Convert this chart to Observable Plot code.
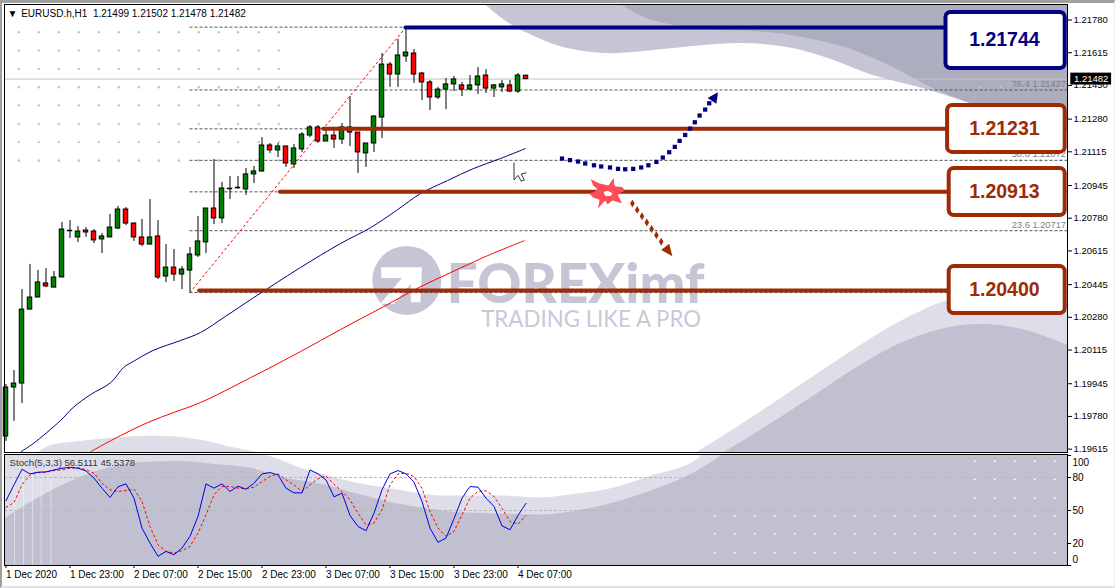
<!DOCTYPE html>
<html><head><meta charset="utf-8">
<style>
html,body{margin:0;padding:0;background:#fff;overflow:hidden}
#wrap{position:relative;width:1115px;height:588px}
#wrap svg{position:absolute;left:0;display:block}
#edge{position:absolute;left:0;top:0;width:1115px;height:588px;box-sizing:border-box;border-top:3px solid #a0a0a0;border-left:2px solid #a0a0a0;border-bottom:2px solid #e2e2e2;border-right:1px solid #ececec;pointer-events:none}
</style>
<script src="https://cdn.jsdelivr.net/npm/d3@7"></script>
<script src="https://cdn.jsdelivr.net/npm/@observablehq/plot@0.6"></script>
</head><body><div id="wrap"><div id="edge"></div></div>
<script>
// ---------- candles (one hourly bar per index, 1 Dec 15:00 .. 4 Dec 08:00)
const opens=[1.19679,1.19926,1.19946,1.20319,1.20380,1.20451,1.20430,1.20481,1.20718,1.20683,1.20718,1.20713,1.20673,1.20683,1.20728,1.20824,1.20753,1.20683,1.20647,1.20688,1.20486,1.20531,1.20496,1.20516,1.20592,1.20658,1.20829,1.20779,1.20930,1.20935,1.20925,1.21001,1.21016,1.21147,1.21122,1.21142,1.21051,1.21127,1.21197,1.21238,1.21167,1.21197,1.21177,1.21238,1.21212,1.21107,1.21157,1.21288,1.21555,1.21505,1.21596,1.21611,1.21510,1.21465,1.21389,1.21429,1.21455,1.21450,1.21429,1.21450,1.21500,1.21434,1.21440,1.21450,1.21419,1.21499];
const closes=[1.19926,1.19946,1.20319,1.20380,1.20456,1.20436,1.20481,1.20723,1.20718,1.20713,1.20708,1.20668,1.20688,1.20733,1.20824,1.20753,1.20683,1.20647,1.20683,1.20481,1.20531,1.20496,1.20521,1.20597,1.20663,1.20829,1.20779,1.20930,1.20930,1.20935,1.21001,1.21016,1.21147,1.21122,1.21142,1.21056,1.21132,1.21202,1.21238,1.21167,1.21197,1.21177,1.21238,1.21212,1.21112,1.21157,1.21293,1.21555,1.21505,1.21601,1.21616,1.21505,1.21465,1.21389,1.21429,1.21455,1.21480,1.21429,1.21450,1.21495,1.21434,1.21450,1.21455,1.21419,1.21500,1.21482];
const highs=[1.19941,1.20012,1.20420,1.20547,1.20516,1.20526,1.20511,1.20758,1.20768,1.20738,1.20733,1.20723,1.20703,1.20799,1.20839,1.20834,1.20758,1.20774,1.20874,1.20768,1.20647,1.20622,1.20536,1.20632,1.20789,1.20829,1.21076,1.20960,1.20990,1.20990,1.21031,1.21041,1.21187,1.21157,1.21157,1.21142,1.21152,1.21212,1.21248,1.21248,1.21228,1.21218,1.21258,1.21394,1.21212,1.21157,1.21298,1.21611,1.21566,1.21682,1.21742,1.21631,1.21515,1.21475,1.21440,1.21485,1.21495,1.21465,1.21500,1.21540,1.21530,1.21455,1.21475,1.21475,1.21510,1.21502];
const lows=[1.19654,1.19755,1.19845,1.20319,1.20380,1.20430,1.20430,1.20481,1.20678,1.20658,1.20683,1.20652,1.20602,1.20683,1.20723,1.20743,1.20663,1.20637,1.20647,1.20471,1.20456,1.20461,1.20420,1.20405,1.20582,1.20602,1.20748,1.20753,1.20874,1.20925,1.20895,1.20955,1.21011,1.21107,1.21086,1.21036,1.21031,1.21112,1.21187,1.21157,1.21167,1.21132,1.21152,1.21142,1.21006,1.21036,1.21112,1.21182,1.21440,1.21440,1.21566,1.21460,1.21374,1.21323,1.21379,1.21328,1.21419,1.21394,1.21424,1.21404,1.21409,1.21389,1.21414,1.21414,1.21409,1.21478];
// ---------- moving averages
const maBlueBar=[1.9,3.4,6.8,8.4,10.6,13.1,14.7,15.9,18.4,21.8,24.3,27.4,30.8,32.7,36.8,41.8,45.6,48.8,51.8,55.2,58.4,61.8,64.9];
const maBluePrice=[1.19603,1.19643,1.19759,1.19825,1.19891,1.19951,1.20027,1.20057,1.20113,1.20163,1.20203,1.20284,1.20375,1.20425,1.20531,1.20652,1.20733,1.20819,1.20904,1.20970,1.21030,1.21081,1.21131];
const maRedBar=[10.6,14.3,17.7,20.9,24.3,30.6,36.8,41.8,47.2,51.6,55.6,59.9,64.8];
const maRedPrice=[1.19603,1.19683,1.19749,1.19799,1.19850,1.19976,1.20107,1.20218,1.20334,1.20430,1.20506,1.20586,1.20667];
// ---------- stochastic
const stochK=[58.8,73.3,87.5,83.3,84.8,85.1,86.9,88.4,89.3,88.4,86,79.4,70.3,61.8,71.5,74.2,61.2,34,20.4,8.3,12.8,9.8,15.9,26.5,44.6,74.2,70.3,74.2,67.3,72.1,69.4,74.8,83.3,84.5,82.4,70.3,66,66,86.9,83.3,77.8,62.4,65.8,45.5,35.5,31.6,47.6,68.8,83.3,86.3,83.3,75.7,58.2,34,21,25,42.5,61.2,71.8,71.2,61.2,53.7,36.1,32.5,45.5,56.5111];
const stochD=[52.8,57.3,73.3,82.4,84.5,84.8,86.3,86.9,88.4,89,87.2,83.9,74.8,68.8,67.3,68.2,69.4,58.2,35.5,18.9,12.8,11.3,13.5,17.4,29.5,46.1,64.2,71.8,71.8,70.3,69.7,71.2,76.3,80.9,83.3,77.8,73.3,67.3,73.3,78.8,81.5,73.9,67.3,59.7,47.6,37,38.5,50.6,73.3,83.3,83.9,80.9,70.3,49.1,34,26.5,31,46.1,61.2,67.3,67.9,62.7,52.1,40,37.6,45.5378];
const stochLevels=[80,50];
const stochTicks=[100,80,50,20,0];
const stochTickText=["100","80","50","20","0"];
const stochTickAt=[93.7,80,50,20,5.4];
// ---------- axes
const priceTicks=[1.21780,1.21615,1.21450,1.21280,1.21115,1.20945,1.20780,1.20615,1.20445,1.20280,1.20115,1.19945,1.19780,1.19615];
const timeTicks=[0,8,16,24,32,40,48,56,64];
const timeText=["1 Dec 2020","1 Dec 23:00","2 Dec 07:00","2 Dec 15:00","2 Dec 23:00","3 Dec 07:00","3 Dec 15:00","3 Dec 23:00","4 Dec 07:00"];
const lastPrice=1.21482;
// ---------- Fibonacci retracement
const fibPrices=[1.21744,1.21427,1.21231,1.21072,1.20913,1.20717,1.20405];
const fibTextPrices=[1.21427,1.21072,1.20717];
const fibText=["76.4 1.21427","50.0 1.21072","23.6 1.20717"];
const trendBars=[23,50];
const trendPrices=[1.20405,1.21744];
// ---------- support / resistance call-outs
const levelText=["1.21744","1.21231","1.20913","1.20400"];
const levelPrice=[1.21742,1.21231,1.20913,1.20415];
const levelStart=[50,39.7,34.3,24.2];
const levelColor=["#000080","#9c2b06","#9c2b06","#9c2b06"];
const boxLeft=[117.5,117.7,117.9,117.9];
const boxRight=132.4;
const boxTop=[1.21818,1.21349,1.21031,1.20536];
const boxBottom=[1.21535,1.21112,1.20794,1.20299];
const boxTextBar=124.8;
const boxTextPrice=[1.21682,1.21233,1.20915,1.20420];
// ---------- forecast arrows
const upBars=[69.5,70.5,71.5,72.4,73.5,74.4,75.5,76.5,77.4,78.4,79.4,80.3,81.3,82.1,82.9,83.6,84.2,84.9,85.5,86.1,86.7,87.4,87.9];
const upPrices=[1.21081,1.21073,1.21066,1.21056,1.21047,1.21041,1.21036,1.21029,1.21027,1.21029,1.21036,1.21047,1.21064,1.21086,1.21113,1.21140,1.21170,1.21200,1.21232,1.21264,1.21298,1.21328,1.21360];
const upHeadBars=[89.0,87.7,88.8];
const upHeadPrices=[1.21416,1.21387,1.21357];
const downBars=[78.3,78.9,79.5,80.1,80.7,81.3,81.9];
const downPrices=[1.20854,1.20822,1.20790,1.20758,1.20726,1.20694,1.20661];
const downHeadBars=[83.3,81.9,82.9];
const downHeadPrices=[1.20588,1.20620,1.20651];
const burstBars=[73.1,74.2,74.5,75.3,76.0,76.0,76.2,77.0,77.4,76.6,76.5,77.0,75.8,75.2,74.9,74.0,74.2,73.4,72.9,73.6,73.9,73.4];
const burstPrices=[1.20977,1.20955,1.20953,1.20945,1.20984,1.20950,1.20940,1.20938,1.20920,1.20905,1.20895,1.20856,1.20869,1.20849,1.20870,1.20829,1.20873,1.20885,1.20903,1.20915,1.20928,1.20945];
const burstCoreBars=[74.7,75.2,75.8,75.6,74.9];
const burstCorePrices=[1.20912,1.20918,1.20906,1.20892,1.20892];
const cursorBars=[63.5,63.5,64.0,64.4,64.8,64.4,65.0];
const cursorPrices=[1.21059,1.20973,1.20996,1.20967,1.20973,1.21003,1.21009];
// ---------- background artwork
const topMidBars=[59.9,62.9,66.6,70.2,74.7,79.8,85.9,92.1,97.7,102.8,108.4,114.6,120.2,132.7];
const topMidPrices=[1.21858,1.21762,1.21687,1.21636,1.21611,1.21621,1.21646,1.21661,1.21641,1.21586,1.21500,1.21434,1.21364,1.21222];
const topDarkBars=[76.8,79.8,82.9,87.4,95.2,100.2,105.3,110.4,115.1,120.2,132.7];
const topDarkPrices=[1.21858,1.21793,1.21757,1.21732,1.21717,1.21687,1.21636,1.21550,1.21450,1.21364,1.21222];
const hillBars=[4.1,5.6,9.3,13.1,16.8,21.8,25.2,28.3,31.4];
const hillPrices=[1.19598,1.19633,1.19654,1.19669,1.19679,1.19674,1.19654,1.19623,1.19598];
const riseLightBars=[86.4,92.7,97.8,103.6,109.2,113.8,117.8,124.3,132.7];
const riseLightPrices=[1.19598,1.19759,1.19896,1.20052,1.20198,1.20299,1.20365,1.20395,1.20375];
const riseDarkBars=[89.8,94.9,100.7,106.4,112.1,117.8,122.4,127.6,132.7];
const riseDarkPrices=[1.19598,1.19724,1.19875,1.20027,1.20153,1.20228,1.20244,1.20213,1.20138];
const stLightBars=[-0.19,31.4,37.3,43.9,48.4,55.1,61.8,66.8,71.4,75.9,80.6,86.6,87.1,132.7];
const stLightVals=[100.9,100.9,87.4,74.8,69.4,63.1,63.1,61.3,64.9,70.3,81.1,97.3,100.9,100.9];
const stDarkBars=[-0.19,3.8,8.2,12.7,17.2,21.7,26.1,30.6,35.1,39.4,43.9,48.4,52.9,57.3,61.8,66.8,71.4,75.9,80.6,85.2,88.8,89.8,132.7];
const stDarkVals=[42.3,60.4,76.6,88.3,93.7,94.6,91.9,88.3,79.3,73.9,64.9,56.8,51.4,47.7,46.8,45.9,49.5,56.8,67.6,81.1,96.4,100.9,100.9];
const stStripes=[1.06,2.2,3.3,4.4,5.6];
const dotBarsMain=[1.6,4.1,6.6,9.1,11.6,14.1,16.6,19.1,21.6,24.1,26.6,29,31.6,34.1];
const dotBarsRight=[121.7,124.3,126.8,129.3,131.8];
const dotPrices=[1.21718,1.21626,1.21534,1.21441,1.21349,1.21256,1.21164,1.21071];
const dotPricesRight=[1.21441,1.21349,1.21256,1.21164,1.21071];
const stDotBars=[88.6,91.1,93.6,96.1,98.6,101.1,103.6,106.1,108.6,111.1,113.6,116.1,118.6,121.1,123.6,126.1,128.6,131.1];
const stDotVals=[45,28.8,11.7];
const stDotBarsUpper=[121.1,123.6,126.1,128.6,131.1];
const stDotValsUpper=[94.6,78.4,61.3];
// ---------- watermark
const logoBar=50.1;
const logoPrice=1.20466;
const logoCutBars=[46.9,52.0,51.8,50.6,50.6,48.5,46.8,49.5,46.9];
const logoCutPrices=[1.20533,1.20533,1.20356,1.20356,1.20449,1.20348,1.20348,1.20479,1.20479];
const brand="FOREXimf";
const slogan="TRADING LIKE A PRO";
const headerText="EURUSD.h,H1\u00a0\u00a01.21499 1.21502 1.21478 1.21482";
const stochText="Stoch(5,3,3) 56.5111 45.5378";

// ---------- derived tables
const pts=(xs,ys)=>xs.map((x,i)=>({x,y:ys[i]}));
const bars=opens.map((o,i)=>({i,o,c:closes[i],h:highs[i],l:lows[i]}));
const bodies=bars.filter(b=>b.o!==b.c);
const dojis=bars.filter(b=>b.o===b.c);
const calls=levelText.map((t,i)=>({t,p:levelPrice[i],s:levelStart[i],col:levelColor[i],bl:boxLeft[i],top:boxTop[i],bot:boxBottom[i],ty:boxTextPrice[i]}));
const UI="'Liberation Sans',Tahoma,sans-serif";
const xDom=[-0.1875,132.6875];
const yBottom=1.195981, yTop=1.218582;
const mid="#c5c5d5", dark="#adadc0", pale="#dedee8", slate="#c0c0d0";
const area=(xs,ys,fill,base)=>Plot.areaY(pts(xs,ys),{x:"x",y1:base,y2:"y",fill,curve:"catmull-rom",clip:true});
const poly=(xs,ys,fill,extra={})=>Plot.line(pts(xs,ys),{x:"x",y:"y",fill,stroke:"none",...extra});

const main=Plot.plot({
  width:1115,height:452,marginLeft:4,marginRight:48,marginTop:4,marginBottom:0,
  style:{background:"transparent",fontFamily:UI,fontSize:"10px",color:"#000",overflow:"visible"},
  x:{domain:xDom,axis:null},
  y:{domain:[yBottom,yTop],axis:null},
  marks:[
    area(topMidBars,topMidPrices,mid,yTop),
    area(topDarkBars,topDarkPrices,dark,yTop),
    area(hillBars,hillPrices,pale,yBottom),
    area(riseLightBars,riseLightPrices,pale,yBottom),
    area(riseDarkBars,riseDarkPrices,slate,yBottom),
    Plot.dot(d3.cross(dotBarsMain,dotPrices),{x:"0",y:"1",r:1.2,fill:"#c0c0cc"}),
    Plot.dot(d3.cross(dotBarsRight,dotPricesRight),{x:"0",y:"1",r:1.2,fill:"#c0c0cc"}),
    Plot.dot([{x:logoBar,y:logoPrice}],{x:"x",y:"y",r:34.5,fill:mid}),
    poly(logoCutBars,logoCutPrices,"#fff"),
    Plot.text([brand],{x:[55.1],y:[1.20441],text:d=>d,textAnchor:"start",fontFamily:"Lato,'Open Sans',sans-serif",fontWeight:900,fontSize:54.5,fill:mid}),
    Plot.text([slogan],{x:[59.4],y:[1.20266],text:d=>d,textAnchor:"start",fontFamily:"Lato,'Open Sans',sans-serif",fontWeight:400,fontSize:22.3,fill:"#c9c9d7"}),
    Plot.ruleY(fibPrices,{x1:23,x2:132.69,stroke:"#555",strokeWidth:1,strokeDasharray:"3,2"}),
    Plot.ruleY([lastPrice],{stroke:"#c4c4c4",strokeWidth:1}),
    Plot.text(fibText,{x:[132.5,132.5,132.5],y:fibTextPrices,text:d=>d,textAnchor:"end",dy:-6,fontSize:9.3,fill:"#808080"}),
    Plot.line(pts(maBlueBar,maBluePrice),{x:"x",y:"y",stroke:"#000080",strokeWidth:1,curve:"catmull-rom"}),
    Plot.line(pts(maRedBar,maRedPrice),{x:"x",y:"y",stroke:"#ff0000",strokeWidth:1,curve:"catmull-rom"}),
    Plot.ruleX(bars,{x:"i",y1:"l",y2:"h",stroke:"#000",strokeWidth:1}),
    Plot.rect(bodies,{x1:d=>d.i-0.28,x2:d=>d.i+0.28,y1:"o",y2:"c",fill:d=>d.c>d.o?"#008000":"#ff0000",stroke:"#000",strokeWidth:1}),
    Plot.ruleY(dojis,{y:"o",x1:d=>d.i-0.34,x2:d=>d.i+0.34,stroke:"#000",strokeWidth:1.5}),
    Plot.line(pts(trendBars,trendPrices),{x:"x",y:"y",stroke:"#ff0000",strokeWidth:1,strokeDasharray:"2,3"}),
    Plot.ruleY(calls,{y:"p",x1:"s",x2:"bl",stroke:"col",strokeWidth:4,strokeLinecap:"round"}),
    Plot.rect(calls,{x1:"bl",x2:()=>boxRight,y1:"bot",y2:"top",fill:"#fff",stroke:"col",strokeWidth:4,rx:5}),
    Plot.text(calls,{x:()=>boxTextBar,y:"ty",text:"t",fill:"col",fontFamily:"'Liberation Sans',Arial,sans-serif",fontWeight:700,fontSize:19.5}),
    Plot.dot(pts(upBars,upPrices),{x:"x",y:"y",symbol:"square",r:2.4,fill:"#000080"}),
    poly(upHeadBars,upHeadPrices,"#000080"),
    Plot.dot(pts(downBars,downPrices),{x:"x",y:"y",symbol:"diamond",r:2.4,fill:"#9c2b06"}),
    poly(downHeadBars,downHeadPrices,"#9c2b06"),
    poly(burstBars,burstPrices,"#ff4c59"),
    poly(burstCoreBars,burstCorePrices,"#fff"),
    Plot.line(pts(cursorBars,cursorPrices),{x:"x",y:"y",fill:"#fff",stroke:"#333",strokeWidth:1}),
    Plot.frame({stroke:"#000",strokeWidth:1}),
    Plot.axisY({anchor:"right",ticks:priceTicks,tickFormat:d=>d.toFixed(5),tickSize:4,tickPadding:2,fontSize:9.5,label:null}),
    Plot.rect([lastPrice],{x1:()=>133.1,x2:()=>138.2,y1:d=>d-0.00030,y2:d=>d+0.00030,fill:"#000",clip:false}),
    Plot.text([lastPrice],{x:()=>133.5,y:d=>d,text:d=>d.toFixed(5),textAnchor:"start",fill:"#fff",fontSize:9.5}),
    Plot.text([headerText],{x:()=>1.9,y:()=>1.21813,text:d=>d,textAnchor:"start",fontSize:10,fill:"#000"}),
    Plot.text(["\u25BC"],{x:()=>0.2,y:()=>1.21813,text:d=>d,textAnchor:"start",fontSize:10,fill:"#000"})
  ]
});
main.style.top="0px";

const k=stochK.map((v,i)=>({i,v})), dd=stochD.map((v,i)=>({i,v}));
const sub=Plot.plot({
  width:1115,height:136,marginLeft:4,marginRight:48,marginTop:2,marginBottom:23,
  style:{background:"transparent",fontFamily:UI,fontSize:"10px",color:"#000",overflow:"visible"},
  x:{domain:xDom,axis:null},
  y:{domain:[0,100.9],axis:null},
  marks:[
    Plot.areaY(pts(stLightBars,stLightVals),{x:"x",y1:0,y2:"y",fill:pale,curve:"monotone-x"}),
    Plot.areaY(pts(stDarkBars,stDarkVals),{x:"x",y1:0,y2:"y",fill:slate,curve:"monotone-x"}),
    Plot.ruleX(stStripes,{y1:0,y2:82,stroke:"#fff",strokeOpacity:0.45,strokeWidth:1}),
    Plot.dot(d3.cross(stDotBars,stDotVals),{x:"0",y:"1",r:1.1,fill:"#f4f4f8"}),
    Plot.dot(d3.cross(stDotBarsUpper,stDotValsUpper),{x:"0",y:"1",r:1.1,fill:"#f4f4f8"}),
    Plot.ruleY(stochLevels,{stroke:"#b8b8b8",strokeWidth:1,strokeDasharray:"3,2"}),
    Plot.line(dd,{x:"i",y:"v",stroke:"#ff0000",strokeWidth:1,strokeDasharray:"2,3"}),
    Plot.line(k,{x:"i",y:"v",stroke:"#0000e0",strokeWidth:1}),
    Plot.frame({stroke:"#000",strokeWidth:1}),
    Plot.ruleY(stochTicks,{x1:132.69,x2:133.2,stroke:"#000",strokeWidth:1}),
    Plot.text(stochTickText,{x:()=>133.3,y:(d,i)=>stochTickAt[i],text:d=>d,textAnchor:"start",fontSize:10,fill:"#000"}),
    Plot.axisX({anchor:"bottom",ticks:timeTicks,tickFormat:(d)=>timeText[timeTicks.indexOf(d)],textAnchor:"start",tickSize:3,tickPadding:2,fontSize:10,label:null}),
    Plot.text([stochText],{x:()=>0.45,y:()=>93.6,text:d=>d,textAnchor:"start",fontSize:9.6,fill:"#333"})
  ]
});
sub.style.top="452px";
const wrap=document.getElementById("wrap");
wrap.insertBefore(sub,wrap.firstChild);
wrap.insertBefore(main,wrap.firstChild);
</script></body></html>
